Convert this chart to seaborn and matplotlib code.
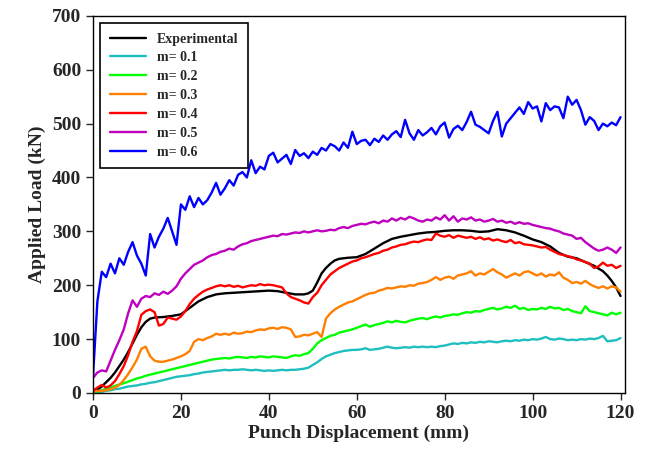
import numpy as np
import pandas as pd
import matplotlib
matplotlib.use("Agg")
import matplotlib.pyplot as plt
import seaborn as sns

# displacement grid (mm) for the simulated curves, one sample per mm
disp = np.arange(0, 121)

load_m01 = [0, 1, 2, 4, 5, 7, 8, 10, 12, 13, 14, 16, 17, 19, 20, 22, 24, 26, 28, 30,
            31, 32, 33, 35, 36, 38, 39, 40, 41, 42, 43, 42, 43, 43, 44, 43, 42, 43, 42, 41,
            42, 41, 42, 43, 42, 43, 43, 44, 45, 47, 52, 57, 63, 68, 71, 74, 76, 78, 79, 80,
            80, 81, 83, 80, 81, 82, 84, 86, 84, 83, 84, 85, 84, 86, 85, 86, 85, 86, 85, 87,
            88, 90, 92, 91, 93, 92, 94, 93, 95, 94, 96, 95, 94, 96, 97, 96, 98, 97, 99, 98,
            100, 99, 101, 104, 100, 99, 101, 100, 98, 99, 98, 100, 99, 101, 100, 102, 106, 96, 97, 98,
            102]

load_m02 = [1, 2, 5, 8, 10, 13, 16, 18, 21, 24, 27, 29, 32, 34, 36, 38, 40, 42, 44, 46,
            48, 50, 52, 54, 56, 58, 60, 62, 63, 64, 65, 64, 66, 67, 66, 65, 67, 66, 68, 67,
            66, 68, 67, 66, 65, 68, 70, 69, 72, 74, 82, 92, 98, 102, 106, 108, 112, 114, 116, 118,
            121, 124, 127, 123, 126, 128, 130, 133, 131, 134, 132, 131, 134, 136, 138, 139, 137, 140, 142, 140,
            143, 144, 146, 145, 148, 150, 149, 152, 151, 154, 156, 158, 155, 157, 160, 158, 162, 156, 158, 154,
            156, 155, 158, 156, 160, 157, 158, 154, 156, 152, 150, 148, 161, 152, 150, 148, 146, 144, 149, 146,
            149]

load_m03 = [2, 4, 4, 5, 7, 10, 15, 24, 35, 48, 62, 82, 86, 68, 60, 58, 58, 60, 62, 65,
            68, 72, 78, 95, 100, 98, 102, 105, 110, 108, 110, 108, 112, 110, 111, 114, 113, 116, 118, 117,
            120, 121, 119, 122, 121, 118, 104, 105, 108, 107, 110, 113, 104, 138, 148, 155, 160, 164, 168, 170,
            174, 178, 182, 185, 186, 190, 192, 195, 194, 196, 198, 197, 200, 199, 203, 204, 206, 210, 215, 210,
            214, 216, 212, 218, 220, 222, 226, 218, 222, 220, 225, 230, 224, 220, 214, 218, 222, 218, 224, 226,
            222, 218, 222, 216, 220, 218, 224, 214, 210, 204, 206, 203, 208, 202, 198, 195, 198, 194, 198, 196,
            188]

load_m04 = [4, 10, 15, 10, 14, 22, 35, 50, 70, 95, 115, 145, 152, 155, 150, 125, 128, 140, 138, 136,
            142, 152, 165, 175, 182, 188, 192, 195, 198, 200, 198, 200, 197, 199, 196, 198, 200, 199, 202, 200,
            201, 200, 198, 196, 185, 178, 175, 172, 168, 166, 178, 186, 200, 210, 220, 226, 232, 236, 240, 244,
            246, 250, 252, 255, 258, 260, 264, 266, 270, 272, 275, 276, 279, 281, 280, 283, 285, 284, 296, 292,
            290, 293, 288, 292, 290, 288, 290, 286, 289, 285, 287, 283, 285, 282, 280, 284, 278, 280, 276, 275,
            274, 272, 270, 271, 266, 262, 258, 256, 254, 252, 248, 246, 243, 240, 232, 235, 242, 236, 238, 232,
            236]

load_m05 = [28, 38, 42, 40, 60, 80, 98, 118, 148, 172, 160, 175, 180, 178, 185, 182, 188, 184, 190, 198,
            212, 222, 230, 238, 242, 246, 252, 256, 258, 262, 264, 268, 266, 272, 276, 278, 282, 284, 286, 288,
            290, 292, 291, 295, 294, 296, 298, 297, 300, 298, 300, 302, 300, 301, 303, 302, 306, 308, 306, 310,
            312, 314, 313, 316, 318, 315, 320, 318, 324, 320, 325, 322, 327, 324, 320, 318, 322, 320, 326, 322,
            330, 320, 328, 318, 324, 322, 326, 320, 322, 318, 320, 323, 318, 320, 316, 318, 314, 317, 314, 315,
            312, 310, 308, 306, 305, 302, 300, 296, 294, 292, 286, 288, 280, 274, 268, 264, 266, 270, 266, 260,
            270]

load_m06 = [30, 170, 225, 215, 240, 222, 250, 238, 262, 280, 255, 240, 218, 295, 270, 290, 305, 325, 300, 275,
            350, 340, 365, 345, 362, 350, 358, 372, 390, 368, 380, 395, 385, 405, 410, 400, 432, 408, 420, 415,
            440, 446, 428, 435, 442, 425, 451, 440, 445, 436, 448, 442, 455, 450, 462, 458, 450, 465, 455, 485,
            462, 468, 470, 460, 472, 466, 478, 470, 480, 486, 475, 507, 482, 470, 488, 478, 484, 492, 480, 495,
            502, 474, 490, 496, 488, 503, 522, 498, 494, 488, 482, 505, 522, 476, 500, 510, 520, 530, 518, 540,
            528, 532, 504, 538, 525, 532, 530, 510, 550, 535, 544, 525, 498, 512, 505, 488, 500, 495, 502, 497,
            512]

# experimental curve (smooth, irregular sampling)
exp_disp = [0, 1, 2, 3, 4, 5, 6, 7, 8, 9, 10, 11, 12, 13, 14,
            16, 18, 20, 22, 24, 26, 28, 30, 32, 34, 36, 38, 40, 42, 44, 46, 48,
            49, 50, 51, 52, 53, 54, 55, 56,
            58, 60, 62, 64, 66, 68, 70, 72, 74, 76, 78, 80, 82, 84, 86, 88, 90, 92, 94, 96,
            98, 100, 102, 104, 106, 108, 110, 112, 114, 116,
            117, 118, 119, 120]
exp_load = [0, 6, 12, 20, 28, 38, 50, 62, 76, 92, 108, 122, 132, 138, 140,
            141, 143, 146, 158, 170, 178, 183, 185, 186, 187, 188, 189, 190, 189, 186, 183, 183,
            185, 190, 205, 222, 232, 240, 246, 249,
            251, 252, 258, 268, 278, 286, 290, 293, 296, 298, 299, 301, 302, 302, 301, 299, 300, 304, 302, 298,
            292, 285, 280, 272, 260, 253, 250, 243, 236, 226,
            218, 208, 196, 180]

labels = ["m= 0.1", "m= 0.2", "m= 0.3", "m= 0.4", "m= 0.5", "m= 0.6"]
colors = ["#1fbfbf", "#00ff00", "#ff7f00", "#ff0000", "#bf00bf", "#0000ff"]
series = [load_m01, load_m02, load_m03, load_m04, load_m05, load_m06]

sns.set_style("ticks")
plt.rcParams["font.family"] = ["Liberation Serif", "DejaVu Serif"]
plt.rcParams["font.weight"] = "bold"

fig = plt.figure(figsize=(6.53, 4.53), dpi=100)
ax = fig.add_axes([0.1424, 0.1325, 0.8146, 0.8325])

sns.lineplot(x=exp_disp, y=exp_load, color="black", linewidth=1.7, label="Experimental", ax=ax)
for lab, col, vals in zip(labels, colors, series):
    sns.lineplot(x=disp, y=vals, color=col, linewidth=1.7, label=lab, ax=ax)

ax.set_xlim(0, 121)
ax.set_ylim(0, 700)
ax.set_xticks(range(0, 121, 20))
ax.set_yticks(range(0, 701, 100))
ax.tick_params(axis="both", labelsize=14, length=5, width=1, direction="out",
               top=False, right=False)
for lbl in ax.get_xticklabels() + ax.get_yticklabels():
    lbl.set_fontweight("bold")
for sp in ax.spines.values():
    sp.set_visible(True)
    sp.set_linewidth(1.0)
    sp.set_color("black")

ax.set_xlabel("Punch Displacement (mm)", fontsize=14, fontweight="bold", labelpad=2)
ax.set_ylabel("Applied Load (kN)", fontsize=14, fontweight="bold", labelpad=4)

leg = ax.legend(loc="upper left", fontsize=10, frameon=True, fancybox=False,
                edgecolor="black", borderaxespad=0.5, handlelength=2.6,
                labelspacing=0.42, borderpad=0.7)
leg.get_frame().set_linewidth(1.2)
leg.get_frame().set_alpha(1)
for t in leg.get_texts():
    t.set_fontweight("bold")

fig.savefig("out.png", dpi=100)
